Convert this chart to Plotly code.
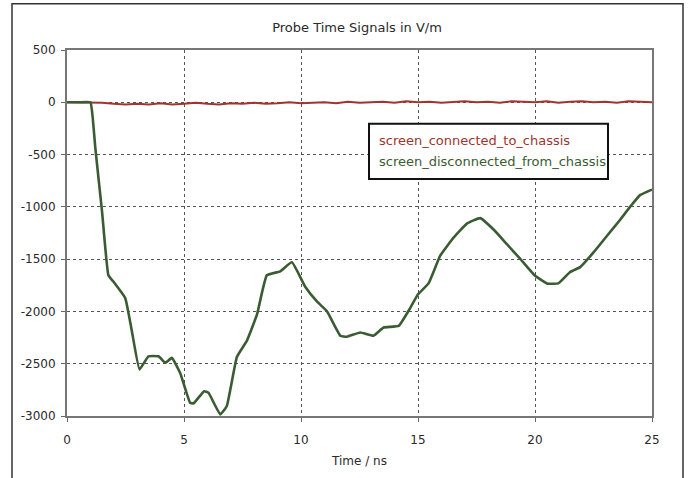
import plotly.graph_objects as go

# Data
green_t = [0.0, 0.5, 1.0, 1.1, 1.21, 1.5, 1.77, 1.99, 2.49, 2.77, 3.10, 3.48, 3.91, 4.20, 4.48,
           4.84, 5.26, 5.41, 5.86, 6.05, 6.55, 6.83, 7.26, 7.69, 8.12, 8.54, 9.11, 9.61,
           10.18, 10.68, 11.11, 11.68, 11.96, 12.53, 13.10, 13.53, 14.17, 14.67, 14.98,
           15.45, 15.95, 16.52, 17.09, 17.66, 18.23, 18.80, 19.37, 19.98, 20.51, 21.00,
           21.50, 21.93, 22.50, 23.07, 23.64, 24.07, 24.49, 24.92, 25.0]
green_v = [0, 0, 0, -150, -436, -1050, -1654, -1717, -1873, -2186, -2554, -2429, -2429, -2491, -2444,
           -2591, -2873, -2879, -2763, -2779, -2985, -2904, -2435, -2279, -2029, -1654, -1617, -1530,
           -1764, -1905, -1998, -2232, -2242, -2201, -2232, -2154, -2139, -1966, -1842,
           -1732, -1467, -1295, -1160, -1108, -1217, -1357, -1498, -1654, -1732, -1732,
           -1623, -1576, -1436, -1279, -1123, -998, -888, -842, -835]

red_t = [0.0, 0.5, 1.0, 1.5, 2.0, 2.5, 3.0, 3.5, 4.0, 4.5, 5.0, 5.5, 6.0, 6.5, 7.0, 7.5, 8.0,
         8.5, 9.0, 9.5, 10.0, 10.5, 11.0, 11.5, 12.0, 12.5, 13.0, 13.5, 14.0, 14.5, 15.0,
         15.5, 16.0, 16.5, 17.0, 17.5, 18.0, 18.5, 19.0, 19.5, 20.0, 20.5, 21.0, 21.5, 22.0,
         22.5, 23.0, 23.5, 24.0, 24.5, 25.0]
red_v = [0, 0, 0, -5, -15, -20, -15, -20, -10, -20, -15, -5, -15, -20, -10, -15, -5,
         -15, -10, 0, -10, -5, 0, -10, 5, -5, 0, 5, -5, 10, 0,
         5, -5, 5, 10, 0, 5, -5, 10, 5, 0, 10, -5, 5, 10,
         0, 5, -5, 10, 5, 0]

series_names = ["screen_connected_to_chassis", "screen_disconnected_from_chassis"]
x_ticks = [0, 5, 10, 15, 20, 25]
x_tick_text = ["0", "5", "10", "15", "20", "25"]
y_ticks = [500, 0, -500, -1000, -1500, -2000, -2500, -3000]
y_tick_text = ["500", "0", "-500", "-1000", "-1500", "-2000", "-2500", "-3000"]

RED = "#a0342e"
GREEN = "#3a5c32"
TXT = "#2a2a2a"
FONT = "DejaVu Sans"

fig = go.Figure()
fig.add_trace(go.Scatter(x=red_t, y=red_v, mode="lines", name=series_names[0],
                         line=dict(color=RED, width=2)))
fig.add_trace(go.Scatter(x=green_t, y=green_v, mode="lines", name=series_names[1],
                         line=dict(color=GREEN, width=2.6, shape="spline", smoothing=0.35)))

L, T, R, B = 67, 50, 38, 56
W, H = 690, 478
pw = W - L - R
ph = H - T - B


def px_x(p):
    return (p - L) / pw


def px_y(p):
    return (H - B - p) / ph


fig.update_layout(
    width=W, height=H,
    margin=dict(l=L, r=R, t=T, b=B),
    paper_bgcolor="white", plot_bgcolor="white",
    showlegend=False,
    font=dict(family=FONT, size=12, color=TXT),
    title=dict(text="Probe Time Signals in V/m", x=357 / W, xanchor="center",
               y=1 - 27 / H, yanchor="middle", font=dict(family=FONT, size=13, color=TXT)),
    xaxis=dict(range=[0, 25], tickvals=x_ticks, ticktext=x_tick_text, ticks="outside",
               ticklen=4, tickcolor="#666", ticklabelstandoff=8,
               showline=True, linecolor="#777777", linewidth=2, mirror=True,
               showgrid=True, gridcolor="#555555", griddash="dot", gridwidth=1,
               zeroline=False, title=dict(text="Time / ns", standoff=10,
                                          font=dict(family=FONT, size=12, color=TXT))),
    yaxis=dict(range=[-3000, 500], tickvals=y_ticks, ticktext=y_tick_text, ticks="outside",
               ticklen=4, tickcolor="#666", ticklabelstandoff=3,
               showline=True, linecolor="#777777", linewidth=2, mirror=True,
               showgrid=True, gridcolor="#555555", griddash="dot", gridwidth=1,
               zeroline=False),
)

# outer frame of the picture
fig.add_shape(type="rect", xref="paper", yref="paper",
              x0=px_x(12), x1=px_x(683), y0=px_y(490), y1=px_y(3),
              line=dict(color="#333333", width=1.5), fillcolor="rgba(0,0,0,0)", layer="above")

# legend box
fig.add_shape(type="rect", xref="paper", yref="paper",
              x0=px_x(369), x1=px_x(608), y0=px_y(181), y1=px_y(125),
              line=dict(color="#111111", width=2), fillcolor="white", layer="above")
fig.add_annotation(xref="paper", yref="paper", x=px_x(377), y=px_y(142),
                   xanchor="left", yanchor="middle", showarrow=False,
                   text=series_names[0], font=dict(family=FONT, size=13, color=RED))
fig.add_annotation(xref="paper", yref="paper", x=px_x(377), y=px_y(163),
                   xanchor="left", yanchor="middle", showarrow=False,
                   text=series_names[1], font=dict(family=FONT, size=13, color=GREEN))

fig.write_html("out.html")
